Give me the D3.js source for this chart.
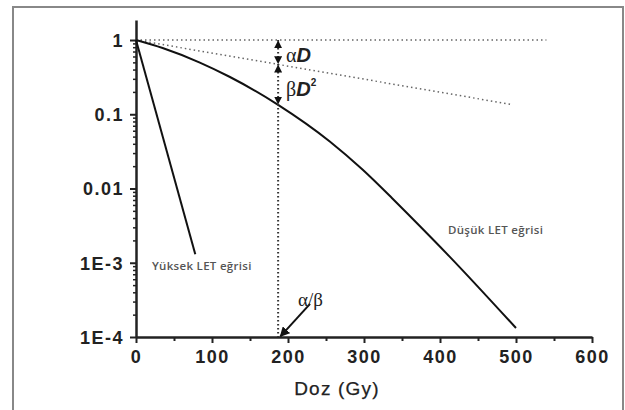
<!DOCTYPE html>
<html>
<head>
<meta charset="utf-8">
<script src="https://cdn.jsdelivr.net/npm/d3@7"></script>
<style>
  body { margin: 0; background: #fff; }
  svg { display: block; font-family: "Liberation Sans", Arial, sans-serif; }
  .axis path, .axis line { stroke: #222; }
  .axis text { font-size: 18px; font-weight: bold; fill: #222; letter-spacing: 1.5px;
               font-family: "Liberation Sans", Arial, sans-serif; }
  .curve { fill: none; stroke: #111; stroke-width: 2; }
  .dotline { fill: none; stroke: #666; stroke-width: 1.5; stroke-dasharray: 1.5,3; }
  .note { font-size: 11.5px; fill: #555; font-weight: 600; letter-spacing: 0.3px;
          font-family: "Open Sans", "DejaVu Sans", sans-serif; }
</style>
</head>
<body>
<svg id="chart"></svg>
<script>
var width = 625,
    height = 410;

// dose (Gy) and surviving fraction
var lowDose  = [0, 35, 84, 123, 187, 255, 298, 337, 360, 412, 500];
var lowSurv  = [1, 0.78, 0.497, 0.32, 0.134, 0.043, 0.018, 0.0074, 0.0043, 0.00123, 0.000132];
var highDose = [0, 78];
var highSurv = [1, 0.0013];
var alphaDose = [0, 495];
var alphaSurv = [1, 0.135];
var unityDose = [0, 540];
var unitySurv = [1, 1];
var abDose = 187;

var xTicks = [0, 100, 200, 300, 400, 500, 600];
var xMinor = [50, 150, 250, 350, 450, 550];
var yTicks = [1, 0.1, 0.01, 0.001, 0.0001];
var yLabels = ["1", "0.1", "0.01", "1E-3", "1E-4"];

var x = d3.scaleLinear().domain([0, 600]).range([136, 592]);
var y = d3.scaleLog().domain([1e-4, 1.86]).range([337, 20]);

var svg = d3.select("#chart").attr("width", width).attr("height", height);

// outer frame
svg.append("rect")
   .attr("x", 13).attr("y", 7)
   .attr("width", 610).attr("height", 410)
   .attr("fill", "none").attr("stroke", "#888").attr("stroke-width", 2);

var defs = svg.append("defs");
defs.append("marker")
    .attr("id", "tri").attr("viewBox", "0 0 10 10")
    .attr("refX", 9).attr("refY", 5)
    .attr("markerWidth", 4).attr("markerHeight", 4)
    .attr("orient", "auto-start-reverse")
  .append("path").attr("d", "M0,0L10,5L0,10z").attr("fill", "#111");
defs.append("marker")
    .attr("id", "big").attr("viewBox", "0 0 10 10")
    .attr("refX", 9).attr("refY", 5)
    .attr("markerWidth", 5).attr("markerHeight", 5)
    .attr("orient", "auto")
  .append("path").attr("d", "M0,0L10,5L0,10z").attr("fill", "#111");

// minor ticks
svg.append("g").attr("class", "axis")
   .attr("transform", "translate(0,337)")
   .call(d3.axisBottom(x).tickValues(xMinor).tickSize(4).tickFormat(""))
   .call(function(g) { g.select(".domain").remove(); })
   .selectAll("line").attr("stroke-width", 2);

var yMinor = y.ticks().filter(function(v) { return yTicks.indexOf(v) < 0 && v < 1; });
svg.append("g").attr("class", "axis")
   .attr("transform", "translate(136,0)")
   .call(d3.axisLeft(y).tickValues(yMinor).tickSize(3).tickFormat(""))
   .call(function(g) { g.select(".domain").remove(); })
   .selectAll("line").attr("stroke-width", 1.5);

// major axes
var xAxis = svg.append("g").attr("class", "axis")
   .attr("transform", "translate(0,337)")
   .call(d3.axisBottom(x).tickValues(xTicks).tickSize(6).tickSizeOuter(0).tickPadding(7));
xAxis.select(".domain").attr("stroke-width", 2.5);
xAxis.selectAll(".tick line").attr("stroke-width", 2);

var yAxis = svg.append("g").attr("class", "axis")
   .attr("transform", "translate(136,0)")
   .call(d3.axisLeft(y).tickValues(yTicks).tickSize(6).tickSizeOuter(0).tickPadding(6)
           .tickFormat(function(d, i) { return yLabels[i]; }));
yAxis.select(".domain").attr("stroke-width", 2.5);
yAxis.selectAll(".tick line").attr("stroke-width", 2);
yAxis.selectAll(".tick text").attr("dy", "0.36em");

var line = d3.line()
   .x(function(d) { return x(d[0]); })
   .y(function(d) { return y(d[1]); });

// reference lines
svg.append("path").attr("class", "dotline")
   .attr("d", line(d3.zip(unityDose, unitySurv)));
svg.append("path").attr("class", "dotline")
   .attr("d", line(d3.zip(alphaDose, alphaSurv)));

// survival curves
svg.append("path").attr("class", "curve")
   .attr("d", line(d3.zip(highDose, highSurv)));
svg.append("path").attr("class", "curve")
   .attr("d", line.curve(d3.curveMonotoneX)(d3.zip(lowDose, lowSurv)));

// alpha/beta vertical marker
svg.append("line")
   .attr("x1", x(abDose)).attr("x2", x(abDose))
   .attr("y1", y(1)).attr("y2", y(1e-4))
   .attr("stroke", "#333").attr("stroke-width", 2).attr("stroke-dasharray", "1.5,2.5");

var alphaAt = 0.47, curveAt = 0.134;
[[1, alphaAt], [alphaAt, curveAt]].forEach(function(s) {
  svg.append("line")
     .attr("x1", x(abDose)).attr("x2", x(abDose))
     .attr("y1", y(s[0]) + 1).attr("y2", y(s[1]) - 1)
     .attr("stroke", "none").attr("stroke-width", 2)
     .attr("marker-start", "url(#tri)").attr("marker-end", "url(#tri)");
});

// arrow to alpha/beta
svg.append("line")
   .attr("x1", x(229)).attr("y1", y(2.8e-4))
   .attr("x2", x(190)).attr("y2", y(1.02e-4))
   .attr("stroke", "#111").attr("stroke-width", 2)
   .attr("marker-end", "url(#big)");

// labels
var greek = "'Liberation Serif', 'DejaVu Serif', serif";
var t1 = svg.append("text").attr("x", 286).attr("y", 62).attr("font-size", 20).attr("fill", "#222");
t1.append("tspan").attr("font-family", greek).text("α");
t1.append("tspan").attr("font-weight", "bold").attr("font-style", "italic").text("D");

var t2 = svg.append("text").attr("x", 286).attr("y", 96).attr("font-size", 20).attr("fill", "#222");
t2.append("tspan").attr("font-family", greek).text("β");
t2.append("tspan").attr("font-weight", "bold").attr("font-style", "italic").text("D");
t2.append("tspan").attr("font-size", 10).attr("dy", -10).attr("font-weight", "bold").text("2");

svg.append("text").attr("x", 298).attr("y", 306)
   .attr("font-family", greek).attr("font-size", 19).attr("fill", "#222")
   .text("α/β");

svg.append("text").attr("class", "note").attr("x", 152).attr("y", 270).text("Yüksek LET eğrisi");
svg.append("text").attr("class", "note").attr("x", 448).attr("y", 234).text("Düşük LET eğrisi");

svg.append("text")
   .attr("x", 337).attr("y", 395)
   .attr("text-anchor", "middle")
   .attr("font-size", 19).attr("fill", "#222")
   .attr("stroke", "#222").attr("stroke-width", 0.25)
   .attr("letter-spacing", 1.2)
   .text("Doz (Gy)");
</script>
</body>
</html>
